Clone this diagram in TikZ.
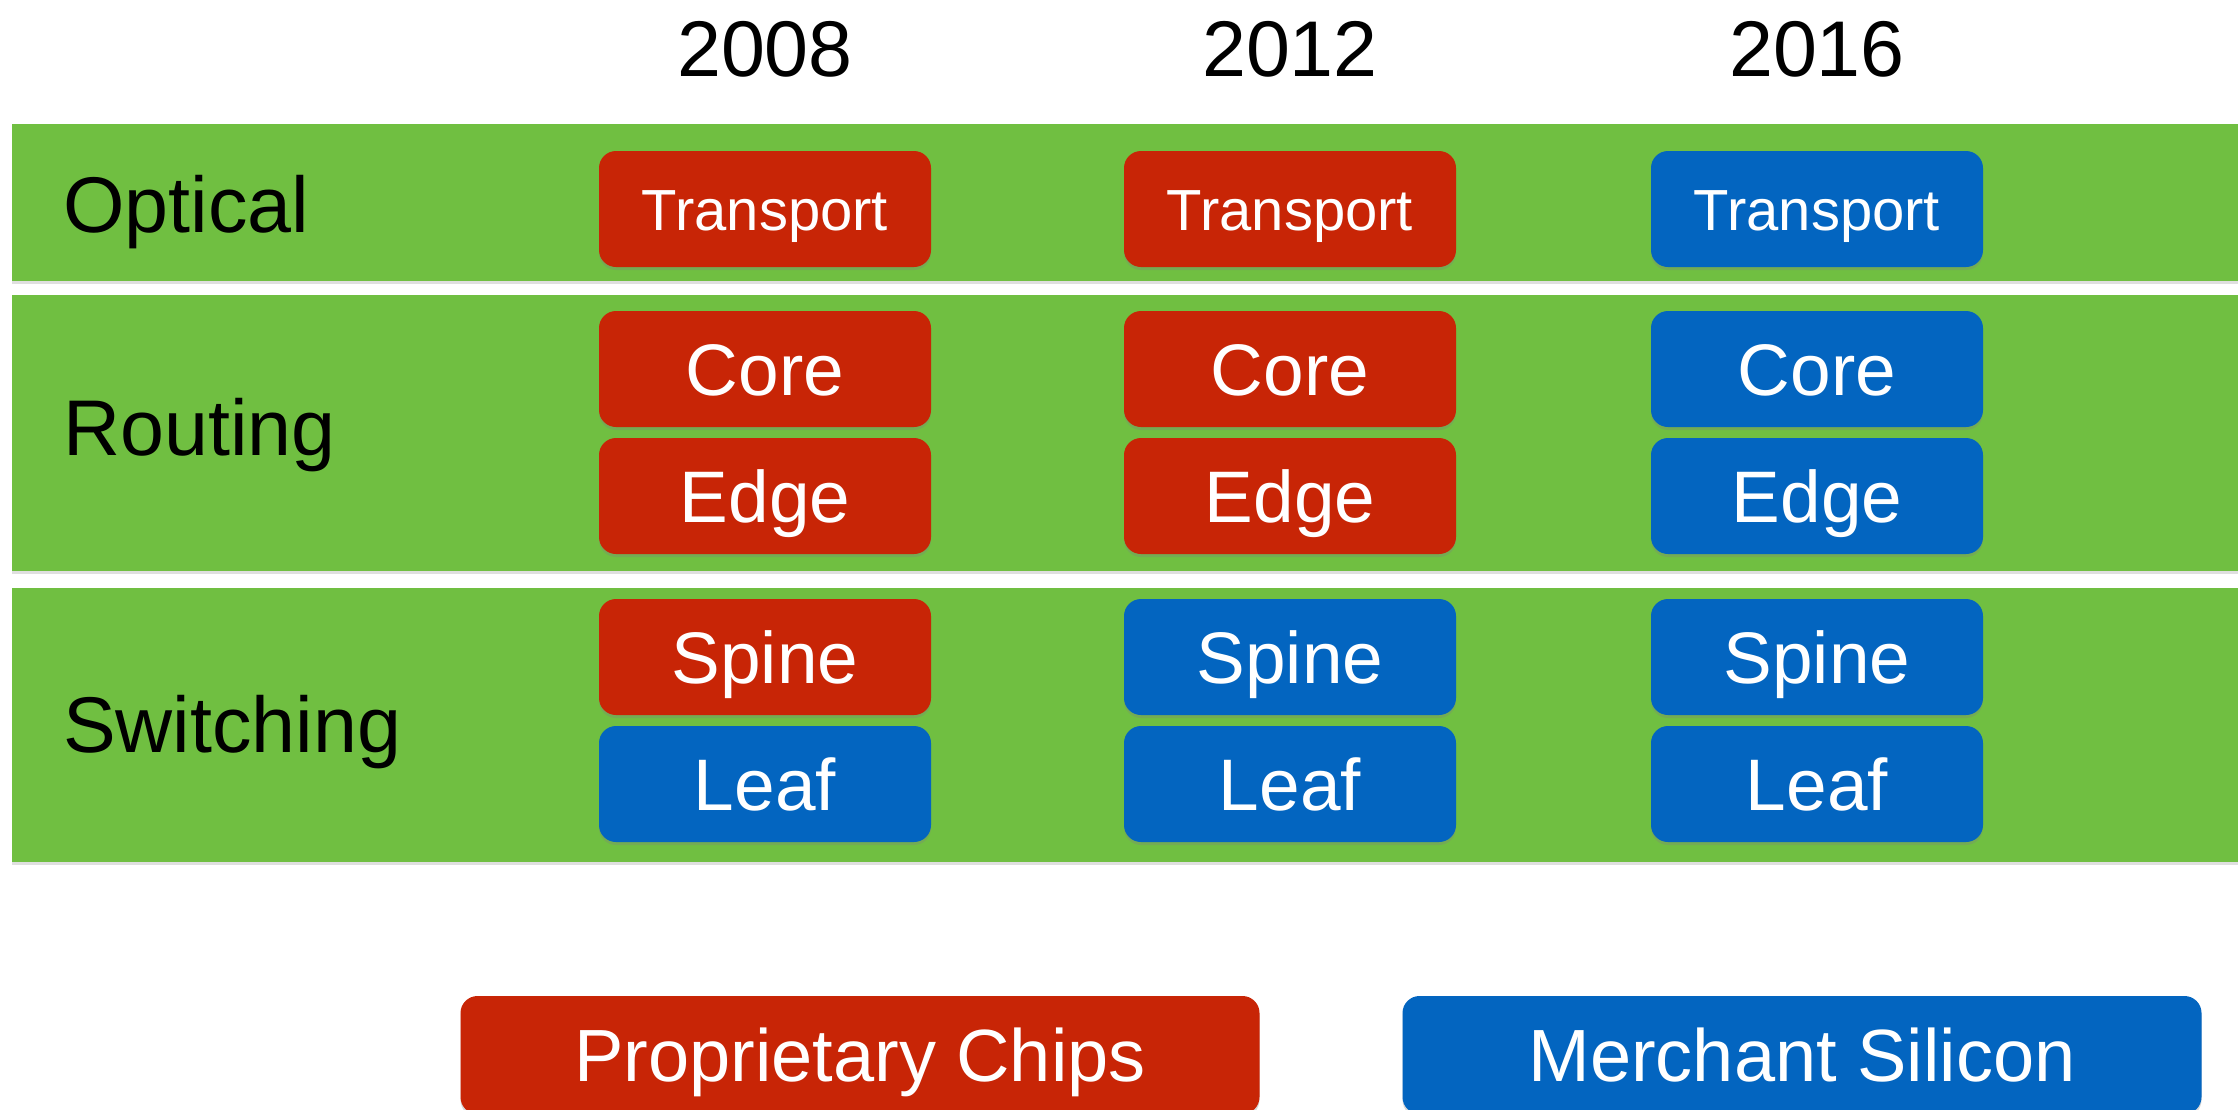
\documentclass[tikz,border=0pt]{standalone}
\usepackage{fontspec}
\setmainfont{Liberation Sans}
\usetikzlibrary{shadows}
\definecolor{bandgreen}{HTML}{70BF41}
\definecolor{chipred}{HTML}{C82506}
\definecolor{chipblue}{HTML}{0365C0}
\newcommand{\fbig}{\fontsize{79}{95}\selectfont}
\newcommand{\fchip}{\fontsize{73}{88}\selectfont}
\newcommand{\ftrans}{\fontsize{58}{70}\selectfont}
\newcommand{\flegend}{\fontsize{74}{89}\selectfont}
\begin{document}
\begin{tikzpicture}[x=1pt,y=-1pt,
  band/.style={fill=bandgreen,
    drop shadow={shadow xshift=0pt,shadow yshift=-3pt,opacity=0.25}},
  chip/.style={rectangle, rounded corners=17pt, minimum width=332pt,
    minimum height=116pt, inner sep=0pt, text=white,
    text height=52pt, text depth=0pt, font=\fchip,
    drop shadow={shadow xshift=0pt,shadow yshift=-3pt,opacity=0.3}},
  transport/.style={font=\ftrans, text height=42pt},
  red/.style={fill=chipred},
  blue/.style={fill=chipblue},
  heading/.style={inner sep=0pt, anchor=base, font=\fbig},
  rowlabel/.style={inner sep=0pt, anchor=base west, font=\fbig},
  legendbox/.style={chip, minimum width=799pt, minimum height=118pt,
    font=\flegend, text height=53pt}
]
\useasboundingbox (0,0) rectangle (2238,1109);
\clip (0,0) rectangle (2238,1109);

% year headings
\node[heading] (y08) at (765,76) {2008};
\node[heading] (y12) at (1290,76) {2012};
\node[heading] (y16) at (1817,76) {2016};

% layer bands
\path[band] (12,124) rectangle (2260,281);
\path[band] (12,295) rectangle (2260,571);
\path[band] (12,588) rectangle (2260,862);

% layer names
\node[rowlabel] (optical) at (63,232) {Optical};
\node[rowlabel] (routing) at (63,455) {Routing};
\node[rowlabel] (switching) at (63,752) {Switching};

% 2008
\node[chip,red,transport] (t08) at (765,209) {Transport};
\node[chip,red] (c08) at (765,369) {Core};
\node[chip,red] (e08) at (765,496) {Edge};
\node[chip,red] (s08) at (765,657) {Spine};
\node[chip,blue] (l08) at (765,784) {Leaf};

% 2012
\node[chip,red,transport] (t12) at (1290,209) {Transport};
\node[chip,red] (c12) at (1290,369) {Core};
\node[chip,red] (e12) at (1290,496) {Edge};
\node[chip,blue] (s12) at (1290,657) {Spine};
\node[chip,blue] (l12) at (1290,784) {Leaf};

% 2016
\node[chip,blue,transport] (t16) at (1817,209) {Transport};
\node[chip,blue] (c16) at (1817,369) {Core};
\node[chip,blue] (e16) at (1817,496) {Edge};
\node[chip,blue] (s16) at (1817,657) {Spine};
\node[chip,blue] (l16) at (1817,784) {Leaf};

% legend
\node[legendbox,red] (prop) at (860,1055) {Proprietary Chips};
\node[legendbox,blue] (merch) at (1802,1055) {Merchant Silicon};
\end{tikzpicture}
\end{document}
